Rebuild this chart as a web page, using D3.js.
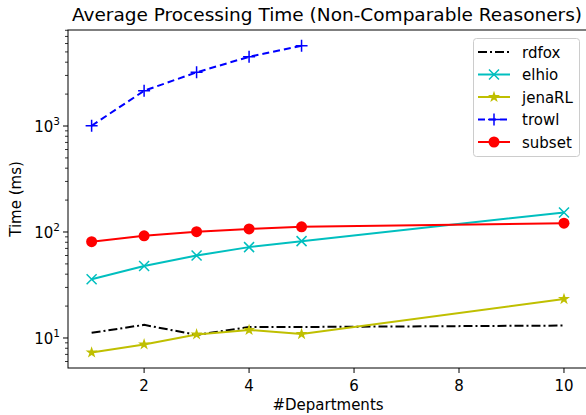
<!DOCTYPE html>
<html>
<head>
<meta charset="utf-8">
<title>Average Processing Time</title>
<script src="https://d3js.org/d3.v7.min.js"></script>
<style>
  body { margin: 0; background: #fff; }
  text { font-family: "DejaVu Sans", sans-serif; fill: #000; }
</style>
</head>
<body>
<svg id="chart" width="586" height="415"></svg>
<script>
// data
const departments = [1, 2, 3, 4, 5, 10]
const rdfox  = [11.2, 13.3, 10.7, 12.7, 12.7, 13.1]
const elhio  = [35.8, 47.8, 59.9, 72, 82, 153]
const jenaRL = [7.3, 8.7, 10.8, 11.9, 10.9, 23.3]
const trowl  = [1006, 2150, 3210, 4500, 5720]   // only up to 5 departments
const subset = [81, 92, 100.6, 107, 112, 121]
const xTicks = [2, 4, 6, 8, 10]
const yTicks = [10, 100, 1000]

const series = [
  { name: "rdfox",  values: rdfox,  color: "#000000", dash: "9,3,2,3", marker: "none" },
  { name: "elhio",  values: elhio,  color: "#00bfbf", dash: null, marker: "x" },
  { name: "jenaRL", values: jenaRL, color: "#bfbf00", dash: null, marker: "star" },
  { name: "trowl",  values: trowl,  color: "#0000ff", dash: "7,4", marker: "plus" },
  { name: "subset", values: subset, color: "#ff0000", dash: null, marker: "circle" }
]

const svg = d3.select("#chart")
const m = { left: 68, right: 587.6, top: 30, bottom: 368 }
const fs = 15

const x = d3.scaleLinear().domain([0.55, 10.45]).range([m.left, m.right])
const y = d3.scaleLog().domain([5.21, 8050]).range([m.bottom, m.top])

// frame
svg.append("rect")
  .attr("x", m.left).attr("y", m.top)
  .attr("width", m.right - m.left).attr("height", m.bottom - m.top)
  .attr("fill", "none").attr("stroke", "#000").attr("stroke-width", 1)

// x axis ticks
const xg = svg.append("g")
xg.selectAll("line").data(xTicks).enter().append("line")
  .attr("x1", d => x(d)).attr("x2", d => x(d))
  .attr("y1", m.bottom).attr("y2", m.bottom + 5)
  .attr("stroke", "#000")
xg.selectAll("text").data(xTicks).enter().append("text")
  .attr("x", d => x(d)).attr("y", 391)
  .attr("text-anchor", "middle").attr("font-size", fs)
  .text(d => d)

// y axis ticks (log)
const minor = []
for (let e = 0; e <= 3; e++) {
  for (let k = 2; k <= 9; k++) {
    const v = k * Math.pow(10, e)
    if (v >= y.domain()[0] && v <= y.domain()[1]) minor.push(v)
  }
}
const yg = svg.append("g")
yg.selectAll("line.minor").data(minor).enter().append("line")
  .attr("class", "minor")
  .attr("x1", m.left - 3).attr("x2", m.left)
  .attr("y1", d => y(d)).attr("y2", d => y(d))
  .attr("stroke", "#000").attr("stroke-width", 0.8)
yg.selectAll("line.major").data(yTicks).enter().append("line")
  .attr("class", "major")
  .attr("x1", m.left - 5).attr("x2", m.left)
  .attr("y1", d => y(d)).attr("y2", d => y(d))
  .attr("stroke", "#000")
const yl = yg.selectAll("text").data(yTicks).enter().append("text")
  .attr("x", m.left - 8).attr("y", d => y(d) + 6)
  .attr("text-anchor", "end").attr("font-size", fs)
yl.append("tspan").text("10")
yl.append("tspan").attr("dy", -7).attr("font-size", 10.5).text(d => Math.round(Math.log10(d)))

// labels
svg.append("text")
  .attr("x", 327).attr("y", 21)
  .attr("text-anchor", "middle").attr("font-size", 18.5)
  .text("Average Processing Time (Non-Comparable Reasoners)")
svg.append("text")
  .attr("x", 328).attr("y", 410)
  .attr("text-anchor", "middle").attr("font-size", fs)
  .text("#Departments")
svg.append("text")
  .attr("transform", `translate(21, ${(m.top + m.bottom) / 2}) rotate(-90)`)
  .attr("text-anchor", "middle").attr("font-size", fs)
  .text("Time (ms)")

// markers
function drawMarker(g, type, cx, cy, color) {
  if (type === "circle") {
    g.append("circle").attr("cx", cx).attr("cy", cy).attr("r", 5.5)
      .attr("fill", color)
  } else if (type === "x") {
    const s = 5
    g.append("path")
      .attr("d", `M${cx - s},${cy - s}L${cx + s},${cy + s}M${cx - s},${cy + s}L${cx + s},${cy - s}`)
      .attr("stroke", color).attr("stroke-width", 1.5).attr("fill", "none")
  } else if (type === "plus") {
    const s = 6
    g.append("path")
      .attr("d", `M${cx - s},${cy}L${cx + s},${cy}M${cx},${cy - s}L${cx},${cy + s}`)
      .attr("stroke", color).attr("stroke-width", 1.5).attr("fill", "none")
  } else if (type === "star") {
    g.append("path")
      .attr("d", d3.symbol(d3.symbolStar, 45)())
      .attr("transform", `translate(${cx},${cy})`)
      .attr("fill", color)
  }
}

const line = d3.line().x(d => x(d[0])).y(d => y(d[1]))

series.forEach(s => {
  const pts = s.values.map((v, i) => [departments[i], v])
  const g = svg.append("g")
  g.append("path")
    .datum(pts)
    .attr("d", line)
    .attr("fill", "none")
    .attr("stroke", s.color)
    .attr("stroke-width", 2)
    .attr("stroke-dasharray", s.dash)
  pts.forEach(p => drawMarker(g, s.marker, x(p[0]), y(p[1]), s.color))
})

// legend
const lg = svg.append("g")
lg.append("rect")
  .attr("x", 473.5).attr("y", 38.5).attr("width", 106).attr("height", 118)
  .attr("rx", 3).attr("fill", "#fff").attr("fill-opacity", 0.8)
  .attr("stroke", "#ccc")
series.forEach((s, i) => {
  const ly = 52 + i * 22.5
  lg.append("line")
    .attr("x1", 478).attr("x2", 510).attr("y1", ly).attr("y2", ly)
    .attr("stroke", s.color).attr("stroke-width", 2)
    .attr("stroke-dasharray", s.dash)
  drawMarker(lg, s.marker, 494, ly, s.color)
  lg.append("text")
    .attr("x", 522).attr("y", ly + 5.5)
    .attr("font-size", fs)
    .text(s.name)
})
</script>
</body>
</html>
